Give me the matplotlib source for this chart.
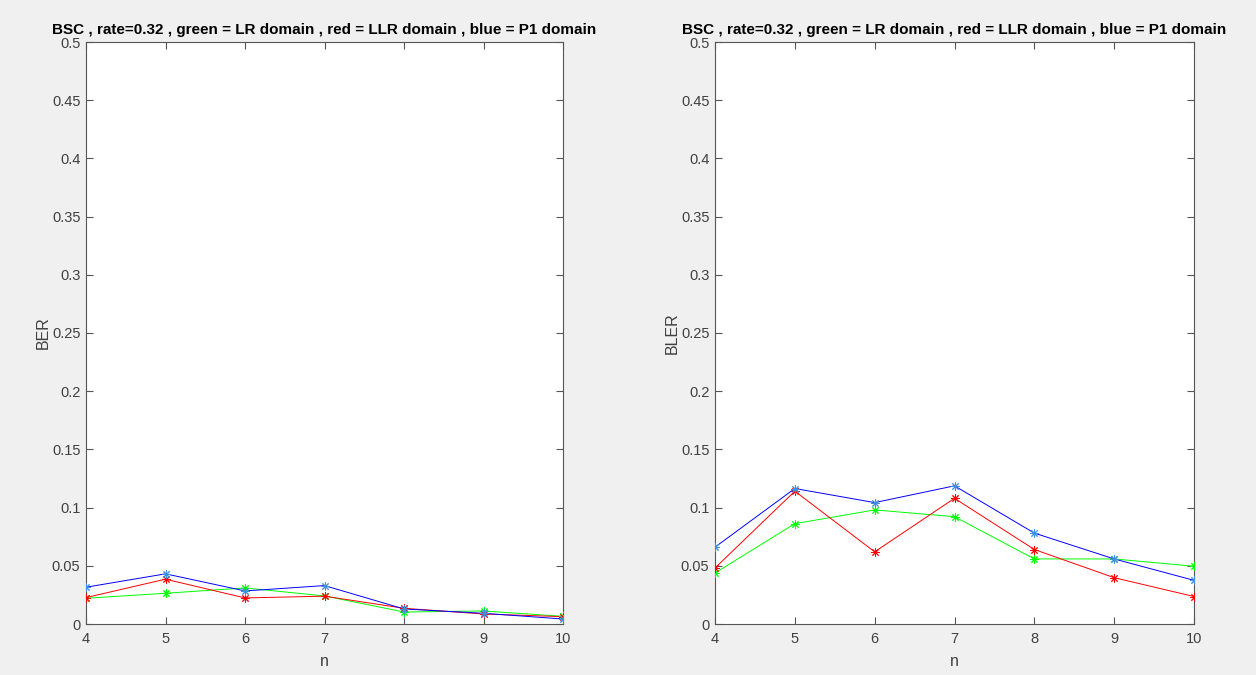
import matplotlib
matplotlib.use("Agg")
import matplotlib.pyplot as plt
from matplotlib.ticker import MultipleLocator, FuncFormatter

# Block length exponent
n = [4, 5, 6, 7, 8, 9, 10]

# Bit error rate per decoding domain
ber_lr = [0.0221, 0.0264, 0.0310, 0.0241, 0.0103, 0.0112, 0.0066]
ber_llr = [0.0227, 0.0385, 0.0224, 0.0239, 0.0135, 0.0086, 0.0063]
ber_p1 = [0.0316, 0.0431, 0.0284, 0.0330, 0.0129, 0.0092, 0.0043]

# Block error rate per decoding domain
bler_lr = [0.0438, 0.0862, 0.0980, 0.0922, 0.0559, 0.0559, 0.0496]
bler_llr = [0.0481, 0.1141, 0.0620, 0.1080, 0.0640, 0.0398, 0.0236]
bler_p1 = [0.0660, 0.1164, 0.1043, 0.1187, 0.0781, 0.0559, 0.0375]

title = "BSC , rate=0.32 , green = LR domain , red = LLR domain , blue = P1 domain"

plt.rcParams["font.family"] = ["Liberation Sans", "DejaVu Sans"]

W, H = 1256, 675
fig = plt.figure(figsize=(W / 100, H / 100), dpi=100, facecolor="#f0f0f0")

def px_axes(x0, x1, y0, y1):
    return fig.add_axes([x0 / W, 1 - y1 / H, (x1 - x0) / W, (y1 - y0) / H])

ax_color = "#555555"
tick_color = "#404040"

def fmt(v, _):
    return "0" if abs(v) < 1e-12 else f"{v:.2f}".rstrip("0").rstrip(".")

def style(ax, ylabel, series):
    ax.set_facecolor("white")
    for y, col, mcol in series:
        ax.plot(n, y, color=col, lw=0.7, zorder=2)
        ax.plot(n, y, ls="none", marker=(8, 2, 0), ms=6, mew=0.7,
                color=mcol, zorder=3)
    ax.set_xlim(4, 10)
    ax.set_ylim(0, 0.5)
    ax.set_xticks(n)
    ax.yaxis.set_major_locator(MultipleLocator(0.05))
    ax.yaxis.set_major_formatter(FuncFormatter(fmt))
    ax.tick_params(direction="in", length=5, width=0.8, colors=ax_color,
                   labelcolor=tick_color, labelsize=10.5, top=True, right=True)
    ax.tick_params(axis="x", pad=6)
    ax.tick_params(axis="y", pad=4)
    for s in ax.spines.values():
        s.set_color(ax_color)
        s.set_linewidth(0.8)
    ax.set_xlabel("n", fontsize=11.5, color=tick_color, labelpad=5.5)
    ax.set_ylabel(ylabel, fontsize=11.5, color=tick_color, labelpad=1)
    ax.set_title(title, fontsize=11, fontweight="bold", color="black", pad=6)

ax1 = px_axes(86, 563, 42, 624)
style(ax1, "BER", [
    (ber_lr, "#00ff00", "#00ff00"),
    (ber_llr, "#ff0000", "#ff0000"),
    (ber_p1, "#0000ff", "#3d8fe0"),
])

ax2 = px_axes(715, 1194, 42, 624)
style(ax2, "BLER", [
    (bler_lr, "#00ff00", "#00ff00"),
    (bler_llr, "#ff0000", "#ff0000"),
    (bler_p1, "#0000ff", "#3d8fe0"),
])

fig.savefig("out.png", dpi=100, facecolor=fig.get_facecolor())
